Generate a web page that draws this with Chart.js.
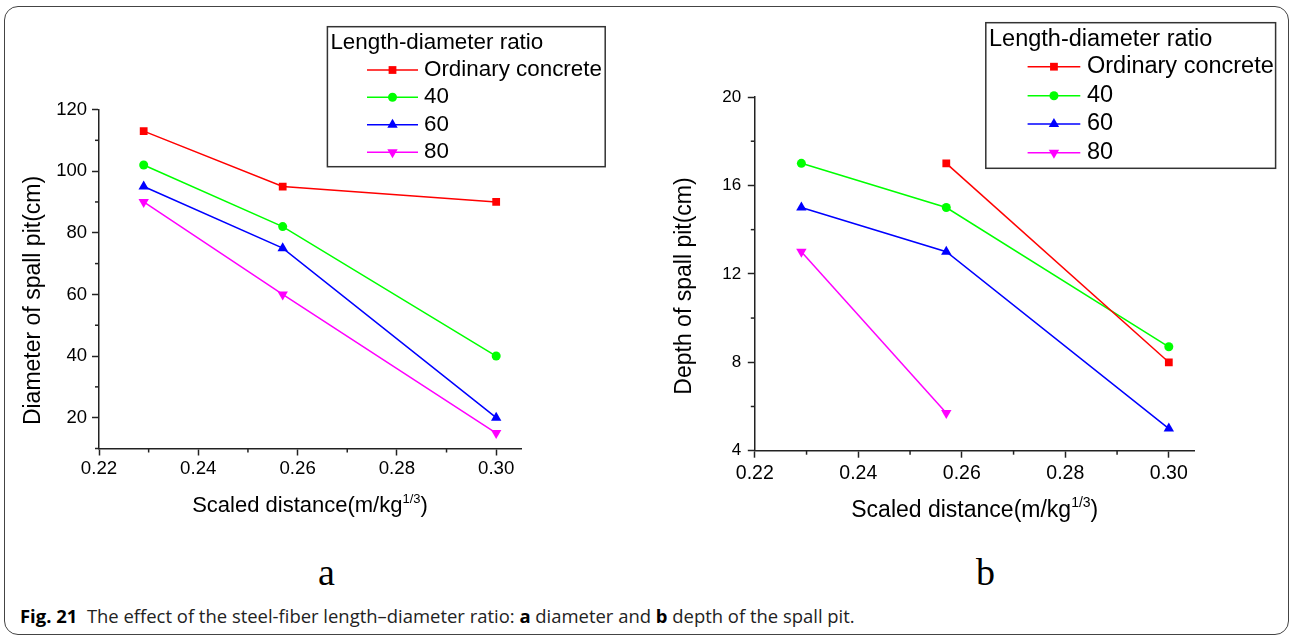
<!DOCTYPE html>
<html>
<head>
<meta charset="utf-8">
<script src="https://cdn.jsdelivr.net/npm/chart.js@4"></script>
<style>
  html, body { margin: 0; padding: 0; background: #fff; }
  #page { position: relative; width: 1290px; height: 638px; overflow: hidden; }
  #frame { position: absolute; left: 4px; top: 6px; width: 1283px; height: 627px;
           border: 1px solid #444; border-radius: 14px; }
  canvas { position: absolute; top: 0; }
  .panel { position: absolute; font-family: 'Liberation Serif', 'Times New Roman', serif;
           font-size: 38px; line-height: 1; color: #000; }
  #caption { position: absolute; left: 20px; top: 603px; white-space: nowrap; color: #222;
             font-family: 'Open Sans', 'Noto Sans', sans-serif; font-size: 15px; }
  #caption b { color: #000; }
</style>
</head>
<body>
<div id="page">
  <div id="frame"></div>
  <canvas id="chartA" width="645" height="540" style="left:0px"></canvas>
  <canvas id="chartB" width="645" height="540" style="left:645px"></canvas>
  <div class="panel" id="capA" style="left:318px; top:553px">a</div>
  <div class="panel" id="capB" style="left:976px; top:553px">b</div>
  <div id="caption"><b>Fig. 21</b>&nbsp; The effect of the steel-fiber length–diameter ratio: <b>a</b> diameter and <b>b</b> depth of the spall pit.</div>
</div>
<script>
// data
const X_VALUES = [0.229, 0.257, 0.30];
const SERIES_LABELS = ['Ordinary concrete', '40', '60', '80'];
const LEGEND_TITLE = 'Length-diameter ratio';

// (a) diameter of spall pit, cm
const DIA_ORDINARY = [113, 95, 90];
const DIA_40 = [102, 82, 40];
const DIA_60 = [95, 75, 20];
const DIA_80 = [90, 60, 15];

// (b) depth of spall pit, cm
const DEPTH_ORDINARY = [null, 17, 8];
const DEPTH_40 = [17, 15, 8.7];
const DEPTH_60 = [15, 13, 5];
const DEPTH_80 = [13, 5.7, null];

const COLORS = ['#ff0000', '#00ff00', '#0000ff', '#ff00ff'];
const POINT_STYLES = ['rect', 'circle', 'triangle', 'triangle'];
const POINT_ROTATION = [0, 0, 0, 180];
const POINT_RADIUS = [5.5, 4.5, 6, 6];

const FONT = "'Liberation Sans', Arial, sans-serif";
const AXIS_COLOR = '#222';

Chart.defaults.font.family = FONT;
Chart.defaults.color = '#000';

function makeDatasets(seriesValues) {
  return seriesValues.map((vals, i) => ({
    label: SERIES_LABELS[i],
    data: X_VALUES.map((x, j) => ({ x: x, y: vals[j] })),
    borderColor: COLORS[i],
    backgroundColor: COLORS[i],
    borderWidth: 1.5,
    pointStyle: POINT_STYLES[i],
    pointRotation: POINT_ROTATION[i],
    pointRadius: POINT_RADIUS[i],
    pointHoverRadius: POINT_RADIUS[i],
    pointBorderWidth: 0,
    tension: 0,
    spanGaps: false
  }));
}

function drawMarker(ctx, ds, x, y) {
  ctx.fillStyle = ds.backgroundColor;
  if (Chart.helpers && Chart.helpers.drawPoint) {
    Chart.helpers.drawPoint(ctx, {
      pointStyle: ds.pointStyle, rotation: ds.pointRotation,
      radius: ds.pointRadius, borderWidth: 0
    }, x, y);
  } else {
    ctx.beginPath();
    ctx.arc(x, y, ds.pointRadius, 0, Math.PI * 2);
    ctx.fill();
  }
}

// legend box, axis titles and short minor ticks
const decorPlugin = {
  id: 'decor',
  afterDraw(chart, args, o) {
    const ctx = chart.ctx;
    ctx.save();

    // minor ticks
    Object.values(chart.scales).forEach(scale => {
      const isMinor = o.minor[scale.id];
      ctx.strokeStyle = AXIS_COLOR;
      ctx.lineWidth = 1.5;
      scale.ticks.forEach(t => {
        if (!isMinor(t.value)) return;
        const p = scale.getPixelForValue(t.value);
        ctx.beginPath();
        if (scale.isHorizontal()) {
          ctx.moveTo(p, chart.chartArea.bottom);
          ctx.lineTo(p, chart.chartArea.bottom + 4);
        } else {
          ctx.moveTo(chart.chartArea.left, p);
          ctx.lineTo(chart.chartArea.left - 4, p);
        }
        ctx.stroke();
      });
    });

    // legend
    const L = o.legend;
    ctx.strokeStyle = '#333';
    ctx.lineWidth = 1.5;
    ctx.strokeRect(L.x, L.y, L.w, L.h);
    ctx.font = L.fontSize + 'px ' + FONT;
    ctx.textBaseline = 'middle';
    ctx.textAlign = 'left';
    ctx.fillStyle = '#000';
    ctx.fillText(LEGEND_TITLE, L.titleX, L.titleY);
    chart.data.datasets.forEach((ds, i) => {
      const y = L.rows[i];
      ctx.strokeStyle = ds.borderColor;
      ctx.lineWidth = 1.5;
      ctx.beginPath();
      ctx.moveTo(L.lineX0, y);
      ctx.lineTo(L.lineX1, y);
      ctx.stroke();
      drawMarker(ctx, ds, (L.lineX0 + L.lineX1) / 2, y);
      ctx.fillStyle = '#000';
      ctx.fillText(ds.label, L.textX, y);
    });

    // y title
    const Y = o.yTitle;
    ctx.save();
    ctx.translate(Y.x, Y.y);
    ctx.rotate(-Math.PI / 2);
    ctx.font = Y.fontSize + 'px ' + FONT;
    ctx.textAlign = 'center';
    ctx.textBaseline = 'middle';
    ctx.fillStyle = '#000';
    ctx.fillText(Y.text, 0, 0);
    ctx.restore();

    // x title with superscript
    const X = o.xTitle;
    const supSize = Math.round(X.fontSize * 0.6);
    ctx.textBaseline = 'alphabetic';
    ctx.textAlign = 'left';
    ctx.font = X.fontSize + 'px ' + FONT;
    const w1 = ctx.measureText(X.main).width;
    const w3 = ctx.measureText(X.end).width;
    ctx.font = supSize + 'px ' + FONT;
    const w2 = ctx.measureText(X.sup).width;
    const cx = (chart.chartArea.left + chart.chartArea.right) / 2;
    let x = cx - (w1 + w2 + w3) / 2;
    ctx.font = X.fontSize + 'px ' + FONT;
    ctx.fillText(X.main, x, X.y);
    x += w1;
    ctx.font = supSize + 'px ' + FONT;
    ctx.fillText(X.sup, x, X.y - X.fontSize * 0.44);
    x += w2;
    ctx.font = X.fontSize + 'px ' + FONT;
    ctx.fillText(X.end, x, X.y);

    ctx.restore();
  }
};

const isMinorX = v => Math.round(v * 100) % 2 !== 0;

function buildChart(id, cfg) {
  const majorY = v => !cfg.isMinorY(v);
  return new Chart(document.getElementById(id), {
    type: 'line',
    data: { datasets: makeDatasets(cfg.series) },
    options: {
      responsive: false,
      animation: false,
      layout: { padding: { left: 0, top: cfg.top, right: cfg.right, bottom: 0 } },
      plugins: {
        legend: { display: false },
        tooltip: { enabled: false },
        decor: {
          legend: cfg.legend,
          yTitle: cfg.yTitle,
          xTitle: cfg.xTitle,
          minor: { x: isMinorX, y: cfg.isMinorY }
        }
      },
      scales: {
        x: {
          type: 'linear',
          min: 0.22,
          max: 0.305,
          afterFit: s => { s.height = cfg.xHeight; },
          border: { display: true, color: AXIS_COLOR, width: 1.5 },
          grid: {
            drawOnChartArea: false, drawTicks: true, tickLength: 7, tickWidth: 1.5,
            tickColor: c => (c.tick && isMinorX(c.tick.value)) ? 'rgba(0,0,0,0)' : AXIS_COLOR
          },
          ticks: {
            stepSize: 0.01, includeBounds: false, autoSkip: false, maxRotation: 0,
            padding: cfg.xPad, color: '#000',
            font: { size: cfg.xTickSize, lineHeight: 1 },
            callback: v => isMinorX(v) ? '' : v.toFixed(2)
          }
        },
        y: {
          min: cfg.yMin,
          max: cfg.yMax,
          afterFit: s => { s.width = cfg.yWidth; },
          border: { display: true, color: AXIS_COLOR, width: 1.5 },
          grid: {
            drawOnChartArea: false, drawTicks: true, tickLength: 7, tickWidth: 1.5,
            tickColor: c => (c.tick && cfg.isMinorY(c.tick.value)) ? 'rgba(0,0,0,0)' : AXIS_COLOR
          },
          ticks: {
            stepSize: cfg.yStep, autoSkip: false, padding: cfg.yPad, color: '#000',
            font: { size: cfg.yTickSize, lineHeight: 1 },
            callback: v => majorY(v) ? String(v) : ''
          }
        }
      }
    },
    plugins: [decorPlugin]
  });
}

buildChart('chartA', {
  series: [DIA_ORDINARY, DIA_40, DIA_60, DIA_80],
  yMin: 10, yMax: 120, yStep: 10,
  isMinorY: v => v % 20 !== 0,
  top: 109.5, right: 124, xHeight: 91.5, yWidth: 99,
  xPad: 4.5, yPad: 5, xTickSize: 18.7, yTickSize: 18.5,
  legend: {
    x: 327.4, y: 26.7, w: 277.8, h: 140, fontSize: 22.4,
    titleX: 330.4, titleY: 43, rows: [70, 97.3, 124.7, 152.3],
    lineX0: 367, lineX1: 418, textX: 424
  },
  yTitle: { text: 'Diameter of spall pit(cm)', x: 33.5, y: 300.5, fontSize: 23 },
  xTitle: { main: 'Scaled distance(m/kg', sup: '1/3', end: ')', y: 512.3, fontSize: 22 }
});

buildChart('chartB', {
  series: [DEPTH_ORDINARY, DEPTH_40, DEPTH_60, DEPTH_80],
  yMin: 4, yMax: 20, yStep: 2,
  isMinorY: v => v % 4 !== 0,
  top: 97, right: 95.3, xHeight: 89.3, yWidth: 109.8,
  xPad: 5.8, yPad: 6.6, xTickSize: 19.5, yTickSize: 17,
  legend: {
    x: 340.8, y: 22.7, w: 289.8, h: 145.6, fontSize: 23.5,
    titleX: 344, titleY: 39.3, rows: [66.7, 95.7, 124, 152.7],
    lineX0: 382.6, lineX1: 435.3, textX: 442
  },
  yTitle: { text: 'Depth of spall pit(cm)', x: 40, y: 286, fontSize: 23 },
  xTitle: { main: 'Scaled distance(m/kg', sup: '1/3', end: ')', y: 517.3, fontSize: 23 }
});

// fit the figure caption to the width it has in the source
const cap = document.getElementById('caption');
const target = 835;
const w = cap.getBoundingClientRect().width;
cap.style.fontSize = (15 * target / w).toFixed(2) + 'px';
</script>
</body>
</html>
